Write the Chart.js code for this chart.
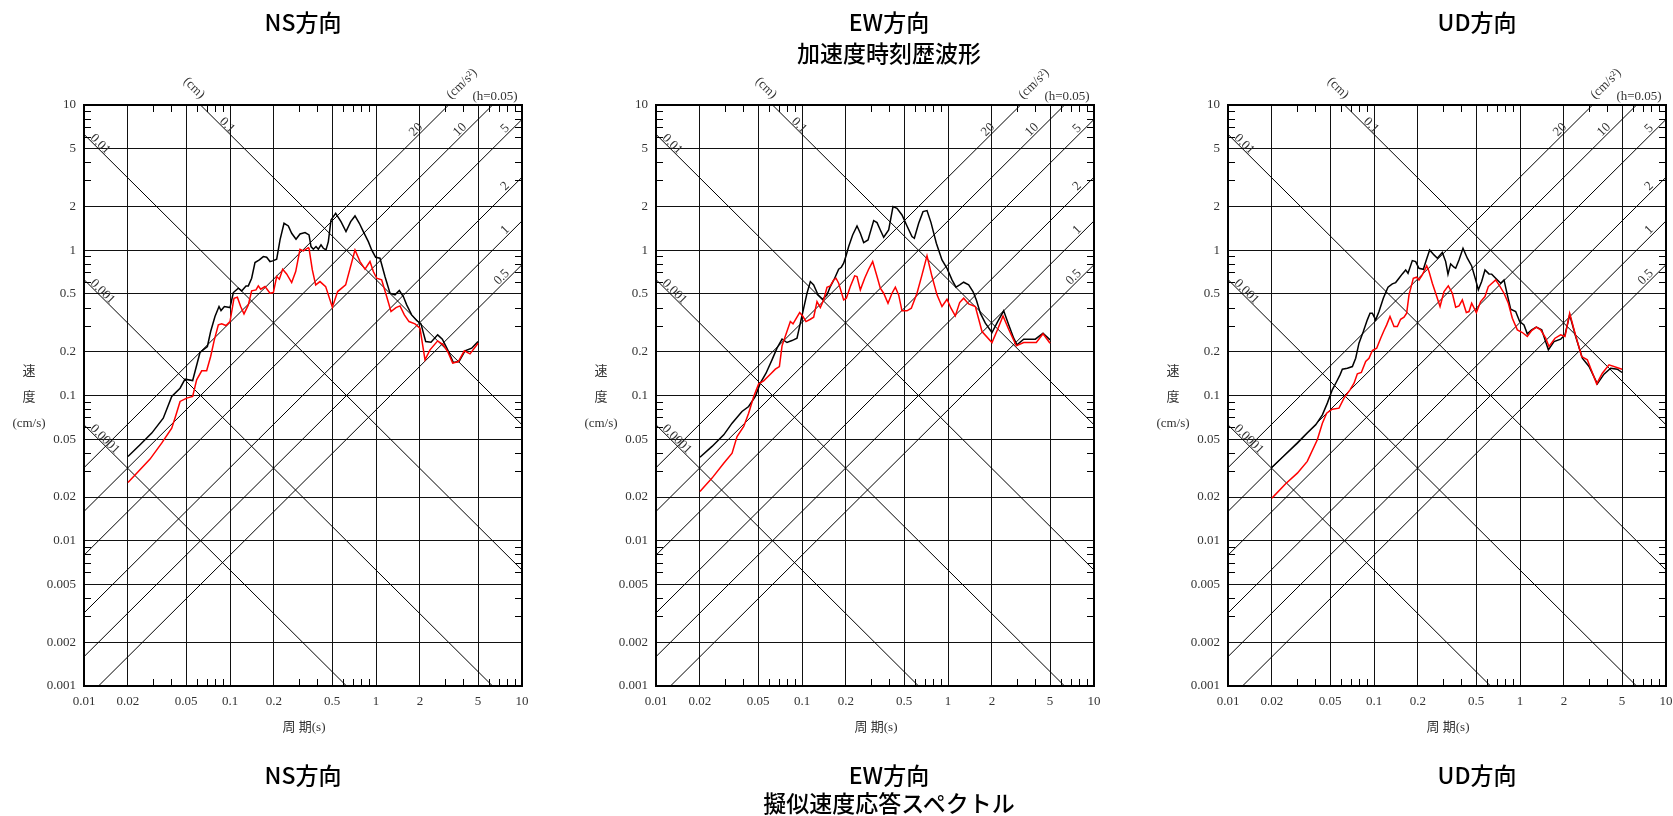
<!DOCTYPE html>
<html><head><meta charset="utf-8">
<script src="https://cdn.jsdelivr.net/npm/chart.js@4.4.1/dist/chart.umd.min.js"></script>
<style>
html,body{margin:0;padding:0;background:#fff;}
body{width:1673px;height:816px;position:relative;overflow:hidden;}
canvas{position:absolute;top:0;}
.t{position:absolute;font-family:"Noto Sans CJK JP","Noto Sans",sans-serif;font-size:23px;font-weight:500;color:#000;white-space:nowrap;transform:translate(-50%,-50%);line-height:1;}
.a{position:absolute;font-family:"Liberation Serif","Noto Sans CJK JP",serif;font-size:13px;color:#333;white-space:nowrap;transform:translate(-50%,-50%);line-height:1;}
</style></head><body>
<div id="root"></div>
<script>
// ---- axis ticks ----
const xTickValues = [0.01,0.02,0.05,0.1,0.2,0.5,1,2,5,10];
const xTickLabels = ['0.01','0.02','0.05','0.1','0.2','0.5','1','2','5','10'];
const yTickValues = [0.001,0.002,0.005,0.01,0.02,0.05,0.1,0.2,0.5,1,2,5,10];
const yTickLabels = ['0.001','0.002','0.005','0.01','0.02','0.05','0.1','0.2','0.5','1','2','5','10'];
const minorMultipliers = [3,4,6,7,8,9];
// ---- tripartite reference lines ----
const dispLines = [0.0001,0.001,0.01,0.1];          // cm
const dispLabels = ['0.0001','0.001','0.01','0.1'];
const accLines = [20,10,5,2,1,0.5];                 // cm/s2
const accLabels = ['20','10','5','2','1','0.5'];
// ---- titles ----
const panelTitles = ['NS方向','EW方向','UD方向'];
const topSubtitle = '加速度時刻歴波形';
const bottomSubtitle = '擬似速度応答スペクトル';
const yTitleLines = ['速','度','(cm/s)'];
const xTitle = '周 期(s)';

// ---- NS ----
const nsBlackT = [0.02,0.0242,0.0291,0.0349,0.0399,0.0455,0.0492,0.0555,0.0623,0.07,0.0737,0.0789,0.0841,0.0868,0.0915,0.1,0.1054,0.1141,0.1202,0.1287,0.1335,0.1407,0.1483,0.1588,0.1692,0.1783,0.1879,0.196,0.2088,0.2201,0.2344,0.2509,0.2645,0.2833,0.3017,0.3265,0.3477,0.3588,0.3723,0.3882,0.4027,0.4201,0.4358,0.4546,0.4716,0.4918,0.5294,0.5757,0.6229,0.6708,0.7181,0.7689,0.8188,0.8862,0.9339,0.9947,1.065,1.152,1.247,1.349,1.445,1.539,1.622,1.755,1.899,2.033,2.189,2.381,2.645,2.847,3.097,3.386,3.702,4.07,4.522,5];
const nsBlackV = [0.038,0.0458,0.0551,0.0698,0.0984,0.1123,0.1296,0.1268,0.1976,0.2174,0.2757,0.3496,0.4097,0.3845,0.4097,0.4032,0.5114,0.5477,0.5251,0.5682,0.5682,0.6417,0.8225,0.858,0.9046,0.8952,0.8356,0.8446,0.8671,1.178,1.534,1.47,1.309,1.19,1.295,1.323,1.275,1.06,1.016,1.06,1.016,1.088,1.032,1.005,1.147,1.617,1.797,1.575,1.344,1.575,1.723,1.534,1.344,1.147,1.005,0.895,0.881,0.659,0.506,0.493,0.528,0.48,0.4206,0.359,0.328,0.311,0.2353,0.2328,0.2615,0.2442,0.2062,0.1687,0.1714,0.203,0.2118,0.2353];
const nsRedT = [0.02,0.02356,0.02833,0.03404,0.0399,0.0427,0.0455,0.0505,0.0555,0.0591,0.064,0.0692,0.0737,0.0781,0.0832,0.0877,0.0939,0.1,0.1065,0.1123,0.1183,0.1247,0.1335,0.1407,0.1507,0.1563,0.1622,0.1737,0.1879,0.1981,0.2088,0.2178,0.2295,0.2443,0.2645,0.2818,0.3017,0.318,0.3439,0.3477,0.3664,0.3862,0.4134,0.4521,0.5024,0.5463,0.6196,0.7181,0.7771,0.8407,0.9096,0.9587,1.011,1.093,1.183,1.267,1.371,1.46,1.564,1.683,1.849,2.001,2.166,2.344,2.645,2.892,3.097,3.351,3.664,4.027,4.404,5];
const nsRedV = [0.0252,0.03,0.0365,0.047,0.0596,0.0736,0.091,0.0959,0.0984,0.1282,0.1478,0.148,0.1855,0.2415,0.3064,0.3112,0.3031,0.3229,0.4674,0.4749,0.4097,0.3647,0.4206,0.5251,0.5335,0.5682,0.5391,0.5623,0.506,0.5114,0.659,0.6317,0.74,0.6873,0.599,0.7131,1.016,0.989,1.043,1.032,0.732,0.5773,0.6086,0.5623,0.4053,0.5196,0.5773,1.005,0.8356,0.74,0.8356,0.7131,0.6417,0.625,0.48,0.3784,0.4032,0.414,0.359,0.3229,0.3112,0.2906,0.176,0.2062,0.2377,0.2232,0.2008,0.167,0.1714,0.203,0.1935,0.2291];
// ---- EW ----
const ewBlackT = [0.02,0.0242,0.0291,0.0332,0.0388,0.0431,0.0479,0.0518,0.0567,0.0623,0.0674,0.073,0.0789,0.0854,0.0924,0.0974,0.1027,0.1082,0.1141,0.1202,0.1287,0.1385,0.1483,0.1563,0.1674,0.1783,0.1859,0.1929,0.2001,0.2088,0.2223,0.2381,0.2509,0.2645,0.2833,0.3097,0.3265,0.3439,0.3626,0.3923,0.4201,0.4474,0.484,0.5238,0.5666,0.588,0.6297,0.6743,0.7181,0.765,0.832,0.9096,0.9843,1.065,1.134,1.202,1.28,1.385,1.483,1.564,1.665,1.802,2.001,2.189,2.406,2.603,2.818,2.97,3.298,3.965,4.474,5];
const ewBlackV = [0.0376,0.0446,0.0536,0.0645,0.0776,0.084,0.0984,0.1216,0.1424,0.176,0.2118,0.2442,0.2316,0.2389,0.248,0.3146,0.399,0.506,0.6086,0.5773,0.493,0.46,0.493,0.5623,0.6417,0.74,0.7638,0.814,0.914,1.06,1.275,1.47,1.309,1.129,1.178,1.6,1.55,1.38,1.228,1.38,1.998,1.945,1.75,1.47,1.242,1.209,1.534,1.845,1.875,1.55,1.117,0.858,0.7517,0.625,0.5564,0.5773,0.6023,0.5773,0.5196,0.455,0.3686,0.3146,0.2714,0.3229,0.3825,0.3064,0.248,0.2232,0.2442,0.2442,0.2685,0.2415];
const ewRedT = [0.02,0.0242,0.0291,0.0332,0.0359,0.0399,0.0431,0.0467,0.0505,0.0546,0.0607,0.0657,0.07,0.073,0.0781,0.0832,0.0868,0.0915,0.0964,0.1016,0.1065,0.1141,0.1202,0.1267,0.1335,0.1407,0.1483,0.1563,0.1648,0.171,0.1783,0.1929,0.2012,0.2143,0.2295,0.2381,0.2509,0.2687,0.2861,0.3048,0.3265,0.3439,0.3626,0.3882,0.4134,0.4358,0.4593,0.484,0.5238,0.5608,0.6132,0.6636,0.7181,0.7771,0.8407,0.9096,0.9843,1.048,1.122,1.202,1.28,1.385,1.539,1.71,2.001,2.189,2.381,2.603,2.938,3.298,4.027,4.474,5];
const ewRedV = [0.02185,0.027,0.0342,0.0401,0.0522,0.0612,0.0756,0.0984,0.1203,0.1261,0.1402,0.1518,0.1583,0.2196,0.2685,0.3229,0.3112,0.3404,0.3725,0.3496,0.3229,0.335,0.3459,0.4435,0.4032,0.455,0.5564,0.5682,0.625,0.6417,0.5929,0.455,0.4674,0.5623,0.6659,0.659,0.5335,0.6417,0.74,0.8356,0.659,0.5477,0.506,0.4319,0.506,0.5564,0.493,0.3825,0.3825,0.399,0.506,0.6766,0.914,0.659,0.493,0.4097,0.46,0.399,0.3533,0.4365,0.4674,0.4273,0.4097,0.2757,0.2316,0.286,0.3533,0.286,0.2196,0.2316,0.2316,0.2657,0.2291];
// ---- UD ----
const udBlackT = [0.02,0.0242,0.02985,0.0349,0.0399,0.0443,0.0479,0.0518,0.0555,0.0585,0.0607,0.0657,0.0711,0.0749,0.0789,0.0845,0.09,0.0939,0.0974,0.1027,0.1082,0.1158,0.1247,0.1335,0.1407,0.1483,0.1563,0.1648,0.171,0.183,0.1929,0.2033,0.2178,0.2282,0.2406,0.2576,0.2716,0.2938,0.3097,0.3212,0.335,0.3531,0.3626,0.3821,0.407,0.4358,0.4667,0.497,0.5183,0.5463,0.5757,0.6132,0.6397,0.6812,0.7372,0.7771,0.8188,0.8633,0.9339,0.9947,1.065,1.122,1.202,1.294,1.408,1.564,1.71,1.899,2.033,2.189,2.406,2.673,2.97,3.386,3.76,4.178,4.642,5];
const udBlackV = [0.0321,0.0385,0.047,0.0551,0.0628,0.0736,0.0886,0.1094,0.1248,0.1387,0.1518,0.1542,0.1583,0.1806,0.2291,0.2757,0.3316,0.3686,0.3686,0.3316,0.3784,0.4674,0.5564,0.5866,0.599,0.6417,0.6873,0.732,0.6944,0.849,0.8356,0.7517,0.74,0.858,1.005,0.929,0.881,0.964,0.8356,0.6839,0.805,0.7638,0.7517,0.858,1.032,0.881,0.78,0.625,0.5335,0.6086,0.732,0.6873,0.685,0.6417,0.5929,0.625,0.493,0.3926,0.3784,0.3229,0.3064,0.2657,0.283,0.2953,0.283,0.2062,0.2353,0.2442,0.2615,0.359,0.2547,0.1806,0.1583,0.1203,0.1402,0.1542,0.1518,0.144];
const udRedT = [0.02,0.02483,0.02985,0.0349,0.0409,0.0443,0.0474,0.0518,0.0576,0.0623,0.0685,0.073,0.0769,0.0819,0.0877,0.0924,0.0974,0.1043,0.1111,0.1171,0.1221,0.1287,0.1371,0.1445,0.1522,0.1605,0.1674,0.1737,0.1859,0.196,0.2033,0.2143,0.2295,0.2381,0.2509,0.2645,0.2833,0.3017,0.3228,0.3439,0.3626,0.3821,0.4027,0.4289,0.4474,0.4667,0.5024,0.5377,0.5757,0.6067,0.6812,0.7256,0.7771,0.832,0.8862,0.9587,1.038,1.122,1.202,1.294,1.385,1.499,1.58,1.737,1.899,2.033,2.189,2.381,2.645,2.892,3.351,3.664,4.07,5];
const udRedV = [0.01966,0.02467,0.0292,0.0352,0.0496,0.0645,0.0756,0.0805,0.0818,0.0959,0.1094,0.1216,0.141,0.144,0.1714,0.1806,0.204,0.2118,0.248,0.28,0.3064,0.3496,0.2984,0.2984,0.335,0.3459,0.3686,0.493,0.6417,0.652,0.625,0.6766,0.78,0.7131,0.5929,0.506,0.4097,0.5196,0.5682,0.506,0.4053,0.414,0.455,0.3725,0.3784,0.4319,0.3725,0.4435,0.48,0.5623,0.625,0.5682,0.506,0.4319,0.3404,0.283,0.2714,0.2547,0.28,0.2953,0.283,0.248,0.2174,0.248,0.2615,0.2547,0.3686,0.2685,0.1855,0.176,0.1203,0.1424,0.1626,0.1518];

// ---- layout (positions / styles) ----
const PANEL_W = 572, CANVAS_H = 816;
const AREA = {left: 84, right: 522, top: 105, bottom: 686};
const TICK_LEN = 7;
const LABEL_FONT = '13px "Liberation Serif", "DejaVu Serif", serif';
const LABEL_COLOR = '#333';
const titleCenters = [303, 889, 1477];

const pts = (T, V) => T.map((t, i) => ({x: t, y: V[i]}));

function alignPx(p) { return Math.round(p - 0.5) + 0.5; }

const tripartite = {
  id: 'tripartite',
  beforeDatasetsDraw(chart) {
    const {ctx, chartArea: a, scales: {x, y}} = chart;
    ctx.save();
    // diagonal reference lines
    ctx.save();
    ctx.beginPath();
    ctx.rect(a.left, a.top, a.right - a.left, a.bottom - a.top);
    ctx.clip();
    ctx.beginPath();
    const t0 = x.min, t1 = x.max;
    dispLines.forEach(d => {
      ctx.moveTo(x.getPixelForValue(t0), y.getPixelForValue(2 * Math.PI * d / t0));
      ctx.lineTo(x.getPixelForValue(t1), y.getPixelForValue(2 * Math.PI * d / t1));
    });
    accLines.forEach(A => {
      ctx.moveTo(x.getPixelForValue(t0), y.getPixelForValue(A * t0 / (2 * Math.PI)));
      ctx.lineTo(x.getPixelForValue(t1), y.getPixelForValue(A * t1 / (2 * Math.PI)));
    });
    ctx.lineWidth = 1;
    ctx.strokeStyle = '#000';
    ctx.stroke();
    ctx.restore();
    // minor ticks (inward, all four sides)
    ctx.beginPath();
    for (let e = -2; e <= 0; e++) for (const m of minorMultipliers) {
      const px = alignPx(x.getPixelForValue(m * Math.pow(10, e)));
      ctx.moveTo(px, a.top); ctx.lineTo(px, a.top + TICK_LEN);
      ctx.moveTo(px, a.bottom); ctx.lineTo(px, a.bottom - TICK_LEN);
    }
    for (let e = -3; e <= 0; e++) for (const m of minorMultipliers) {
      const py = alignPx(y.getPixelForValue(m * Math.pow(10, e)));
      ctx.moveTo(a.left, py); ctx.lineTo(a.left + TICK_LEN, py);
      ctx.moveTo(a.right, py); ctx.lineTo(a.right - TICK_LEN, py);
    }
    ctx.lineWidth = 1;
    ctx.strokeStyle = '#000';
    ctx.stroke();
    // frame
    ctx.lineWidth = 2;
    ctx.strokeRect(Math.round(a.left), Math.round(a.top), Math.round(a.right - a.left), Math.round(a.bottom - a.top));
    ctx.restore();
  },
  afterDraw(chart) {
    const {ctx, chartArea: a, scales: {x, y}} = chart;
    ctx.save();
    ctx.font = LABEL_FONT;
    ctx.fillStyle = LABEL_COLOR;
    const P = (t, v) => ({x: x.getPixelForValue(t), y: y.getPixelForValue(v)});
    // displacement labels (lines falling to the right)
    dispLines.forEach((d, i) => {
      const f = t => 2 * Math.PI * d / t;
      const pa = P(1, f(1)), pb = P(10, f(10));
      const L = Math.hypot(pb.x - pa.x, pb.y - pa.y);
      const ux = (pb.x - pa.x) / L, uy = (pb.y - pa.y) / L;
      let ex, ey, gap;
      if (f(x.min) <= y.max) { const p = P(x.min, f(x.min)); ex = p.x; ey = p.y; gap = 7; }
      else { const p = P(2 * Math.PI * d / y.max, y.max); ex = p.x; ey = p.y; gap = 25; }
      ctx.save();
      ctx.translate(ex + ux * gap, ey + uy * gap);
      ctx.rotate(Math.atan2(uy, ux));
      ctx.textAlign = 'left'; ctx.textBaseline = 'alphabetic';
      ctx.fillText(dispLabels[i], 0, -1);
      ctx.restore();
    });
    // acceleration labels (lines rising to the right)
    accLines.forEach((A, i) => {
      const f = t => A * t / (2 * Math.PI);
      const pa = P(1, f(1)), pb = P(10, f(10));
      const L = Math.hypot(pb.x - pa.x, pb.y - pa.y);
      const ux = (pb.x - pa.x) / L, uy = (pb.y - pa.y) / L;
      let ex, ey, gap;
      if (f(x.max) <= y.max) { const p = P(x.max, f(x.max)); ex = p.x; ey = p.y; gap = 15; }
      else { const p = P(2 * Math.PI * y.max / A, y.max); ex = p.x; ey = p.y; gap = 34; }
      ctx.save();
      ctx.translate(ex - ux * gap, ey - uy * gap);
      ctx.rotate(Math.atan2(uy, ux));
      ctx.textAlign = 'right'; ctx.textBaseline = 'alphabetic';
      ctx.fillText(accLabels[i], 0, -2);
      ctx.restore();
    });
    // unit captions
    ctx.textAlign = 'center'; ctx.textBaseline = 'middle';
    ctx.save(); ctx.translate(a.left + 110, a.top - 17); ctx.rotate(Math.PI / 4); ctx.fillText('(cm)', 0, 0); ctx.restore();
    ctx.save(); ctx.translate(a.left + 378, a.top - 21); ctx.rotate(-Math.PI / 4); ctx.fillText('(cm/s²)', 0, 0); ctx.restore();
    ctx.fillText('(h=0.05)', a.left + 411, a.top - 8);
    ctx.restore();
  }
};

function makePanel(i, bT, bV, rT, rV) {
  const cv = document.createElement('canvas');
  cv.width = PANEL_W; cv.height = CANVAS_H;
  cv.style.left = (i * PANEL_W) + 'px';
  cv.style.width = PANEL_W + 'px'; cv.style.height = CANVAS_H + 'px';
  document.body.appendChild(cv);
  new Chart(cv, {
    type: 'scatter',
    data: {datasets: [
      {data: pts(rT, rV), borderColor: '#ff0000', borderWidth: 1.5, showLine: true, pointRadius: 0, order: 0},
      {data: pts(bT, bV), borderColor: '#000000', borderWidth: 1.5, showLine: true, pointRadius: 0, order: 1}
    ]},
    options: {
      responsive: false, animation: false, devicePixelRatio: 1,
      layout: {padding: {left: 0, top: AREA.top, right: PANEL_W - AREA.right, bottom: 0}},
      plugins: {legend: {display: false}, tooltip: {enabled: false}, title: {display: false}},
      elements: {line: {tension: 0}},
      scales: {
        x: {
          type: 'logarithmic', position: 'bottom', min: 0.01, max: 10,
          afterBuildTicks: s => { s.ticks = xTickValues.map(v => ({value: v})); },
          afterFit: s => { s.height = CANVAS_H - AREA.bottom; },
          ticks: {autoSkip: false, maxRotation: 0, padding: 8, color: LABEL_COLOR,
                  font: {family: '"Liberation Serif", "DejaVu Serif", serif', size: 13},
                  callback: (v, idx) => xTickLabels[idx]},
          grid: {color: '#111', lineWidth: 1, drawTicks: false},
          border: {display: false}
        },
        y: {
          type: 'logarithmic', position: 'left', min: 0.001, max: 10,
          afterBuildTicks: s => { s.ticks = yTickValues.map(v => ({value: v})); },
          afterFit: s => { s.width = AREA.left; },
          ticks: {autoSkip: false, padding: 8, color: LABEL_COLOR,
                  font: {family: '"Liberation Serif", "DejaVu Serif", serif', size: 13},
                  callback: (v, idx) => yTickLabels[idx]},
          grid: {color: '#111', lineWidth: 1, drawTicks: false},
          border: {display: false}
        }
      }
    },
    plugins: [tripartite]
  });
}

function addText(cls, text, cx, cy) {
  const d = document.createElement('div');
  d.className = cls; d.textContent = text;
  d.style.left = cx + 'px'; d.style.top = cy + 'px';
  document.body.appendChild(d);
}

makePanel(0, nsBlackT, nsBlackV, nsRedT, nsRedV);
makePanel(1, ewBlackT, ewBlackV, ewRedT, ewRedV);
makePanel(2, udBlackT, udBlackV, udRedT, udRedV);

panelTitles.forEach((t, i) => {
  addText('t', t, titleCenters[i], 21);
  addText('t', t, titleCenters[i], 774);
  const ox = i * PANEL_W;
  addText('a', yTitleLines[0], ox + 29, 370);
  addText('a', yTitleLines[1], ox + 29, 396);
  addText('a', yTitleLines[2], ox + 29, 422);
  addText('a', xTitle, ox + 304, 726);
});
addText('t', topSubtitle, titleCenters[1], 52);
addText('t', bottomSubtitle, titleCenters[1], 802);
</script>
</body></html>
